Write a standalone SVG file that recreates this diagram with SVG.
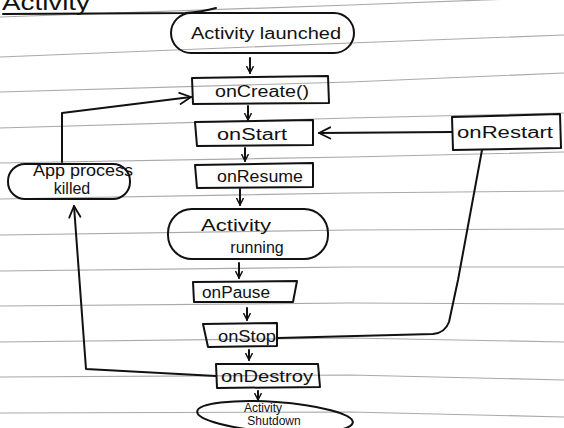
<svg xmlns="http://www.w3.org/2000/svg" width="564" height="428" viewBox="0 0 564 428">
<style>
  .rule { fill: none; stroke: #8c8c8c; stroke-width: 1.2; opacity: 0.75; }
  .ink { fill: none; stroke: #111; stroke-width: 2; stroke-linecap: round; stroke-linejoin: round; }
  .lbl { font-family: "Liberation Sans", "DejaVu Sans", sans-serif; font-size: 16px; fill: #111; text-anchor: middle; }
  .sm { font-size: 12px; }
</style>
<defs>
  <marker id="ah" viewBox="0 0 10 10" refX="9" refY="5" markerWidth="8" markerHeight="8" markerUnits="userSpaceOnUse" orient="auto">
    <path d="M1,1 L9,5 L1,9" fill="none" stroke="#111" stroke-width="1.8" stroke-linecap="round" stroke-linejoin="round"/>
  </marker>
  <marker id="ahL" viewBox="0 0 10 10" refX="9" refY="5" markerWidth="14" markerHeight="14" markerUnits="userSpaceOnUse" orient="auto">
    <path d="M1,1 L9,5 L1,9" fill="none" stroke="#111" stroke-width="1.3" stroke-linecap="round" stroke-linejoin="round"/>
  </marker>
</defs>
<rect width="564" height="428" fill="#ffffff"/>
<g id="paper-rules">
  <polyline class="rule" points="0,17 350,5 564,-3"/>
  <polyline class="rule" points="0,57 350,43 564,35"/>
  <polyline class="rule" points="0,92 350,82 564,73"/>
  <polyline class="rule" points="0,128 350,118 564,113"/>
  <polyline class="rule" points="0,163 350,157 564,152"/>
  <polyline class="rule" points="0,199 350,193 564,191"/>
  <polyline class="rule" points="0,235 350,230 564,229"/>
  <polyline class="rule" points="0,271 350,267 564,267"/>
  <polyline class="rule" points="0,306 350,303 564,304"/>
  <polyline class="rule" points="0,342 350,338 564,342"/>
  <polyline class="rule" points="0,377 350,375 564,380"/>
  <polyline class="rule" points="0,413 350,412 564,417"/>
</g>
<g id="title">
  <text x="2" y="10" style="font-family: 'Liberation Sans', sans-serif; font-size: 22px; fill: #111;" textLength="88" lengthAdjust="spacingAndGlyphs">Activity</text>
  <path class="ink" d="M3,14 L185,13 Q202,12 216,8" stroke-width="2.6"/>
</g>
<g id="connectors">
  <path class="ink" d="M250,58 L250,73" marker-end="url(#ah)"/>
  <path class="ink" d="M248,106 L248,120" marker-end="url(#ah)"/>
  <path class="ink" d="M245,148 L245,161" marker-end="url(#ah)"/>
  <path class="ink" d="M240,189 L240,205" marker-end="url(#ah)"/>
  <path class="ink" d="M239,263 L239,278" marker-end="url(#ah)"/>
  <path class="ink" d="M247,308 L247,320" marker-end="url(#ah)"/>
  <path class="ink" d="M249,350 L249,360" marker-end="url(#ah)"/>
  <path class="ink" d="M258,391 L258,400" marker-end="url(#ah)"/>
  <path class="ink" d="M452,132 L319,133" marker-end="url(#ahL)"/>
  <path class="ink" d="M482,150 L458,280 L449,322 Q445,333 433,334 L278,338"/>
  <path class="ink" d="M62,162 L62,113 L191,97" marker-end="url(#ahL)"/>
  <path class="ink" d="M216,376 L86,369 L74,206" marker-end="url(#ahL)"/>
</g>
<g id="activity-launched">
  <rect class="ink" x="171" y="13" width="183" height="40" rx="20"/>
  <text class="lbl" x="266" y="39" textLength="150" lengthAdjust="spacingAndGlyphs">Activity launched</text>
</g>
<g id="onCreate">
  <path class="ink" d="M192,78 L328,76 L329,103 L193,104 Z"/>
  <text class="lbl" x="262" y="97" textLength="94" lengthAdjust="spacingAndGlyphs">onCreate()</text>
</g>
<g id="onStart">
  <path class="ink" d="M195,122 L313,120 L313,145 L197,146 Z"/>
  <text class="lbl" x="252" y="140" textLength="70" lengthAdjust="spacingAndGlyphs">onStart</text>
</g>
<g id="onRestart">
  <path class="ink" d="M452,117 L560,114 L561,148 L453,150 Z"/>
  <text class="lbl" x="505" y="138" textLength="96" lengthAdjust="spacingAndGlyphs">onRestart</text>
</g>
<g id="onResume">
  <path class="ink" d="M195,165 L313,163 L313,187 L197,188 Z"/>
  <text class="lbl" x="260" y="182" textLength="86" lengthAdjust="spacingAndGlyphs">onResume</text>
</g>
<g id="app-process-killed">
  <rect class="ink" x="8" y="164" width="122" height="35" rx="17"/>
  <text class="lbl" x="83" y="176" textLength="100" lengthAdjust="spacingAndGlyphs">App process</text>
  <text class="lbl" x="72" y="194">killed</text>
</g>
<g id="activity-running">
  <rect class="ink" x="168" y="209" width="160" height="50" rx="24"/>
  <text class="lbl" x="236" y="231" textLength="70" lengthAdjust="spacingAndGlyphs">Activity</text>
  <text class="lbl" x="257" y="253">running</text>
</g>
<g id="onPause">
  <path class="ink" d="M193,282 L297,281 L293,302 L194,302 Z"/>
  <text class="lbl" x="236" y="298" textLength="68" lengthAdjust="spacingAndGlyphs">onPause</text>
</g>
<g id="onStop">
  <path class="ink" d="M203,324 L277,323 L277,346 L208,347 Z"/>
  <text class="lbl" x="247" y="342" textLength="58" lengthAdjust="spacingAndGlyphs">onStop</text>
</g>
<g id="onDestroy">
  <path class="ink" d="M216,364 L318,364 L320,387 L217,388 Z"/>
  <text class="lbl" x="267" y="382" textLength="92" lengthAdjust="spacingAndGlyphs">onDestroy</text>
</g>
<g id="activity-shutdown">
  <ellipse class="ink" cx="275" cy="417" rx="78" ry="15" transform="rotate(4 275 417)"/>
  <text class="lbl sm" x="263" y="412">Activity</text>
  <text class="lbl sm" x="274" y="425">Shutdown</text>
</g>
</svg>
